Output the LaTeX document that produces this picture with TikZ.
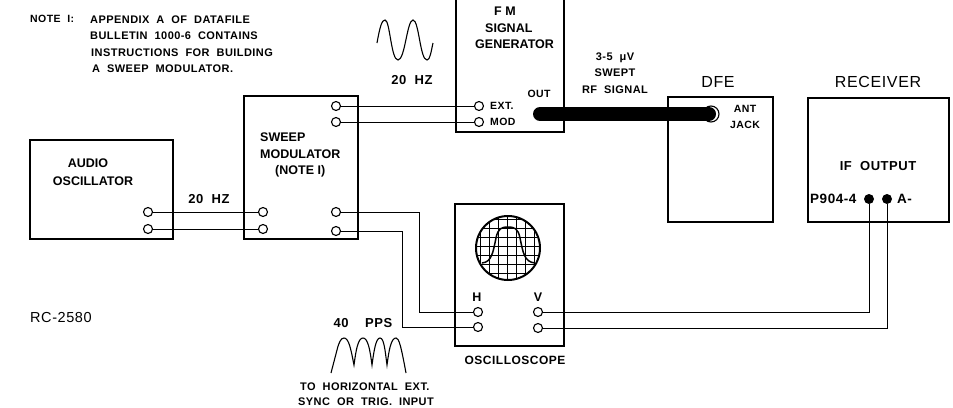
\documentclass[tikz,border=0pt]{standalone}
\usepackage{fontspec}
\setmainfont{Liberation Sans}
\newfontfamily\widefont[LetterSpace=4,WordSpace=2]{Liberation Sans}
\tikzset{
    unitbox/.style={draw,line width=1.5pt,fill=none},
    jackpin/.style={circle,draw,line width=1.1pt,inner sep=0pt,minimum size=9pt,fill=white},
    dotpin/.style={circle,fill=black,inner sep=0pt,minimum size=10pt},
    wire/.style={line width=1pt},
    lbl/.style={inner sep=0pt,align=center,font=\fontsize{12.5}{16.5}\selectfont\bfseries},
    biglbl/.style={inner sep=0pt,font=\widefont\fontsize{13}{16}\selectfont\bfseries},
    titlelbl/.style={inner sep=0pt,font=\widefont\fontsize{16}{18}\selectfont},
    smalllbl/.style={inner sep=0pt,align=left,font=\widefont\fontsize{10.5}{16.5}\selectfont\bfseries},
    notelbl/.style={smalllbl,font=\widefont\fontsize{11}{16.5}\selectfont\bfseries}
}
\begin{document}
\begin{tikzpicture}[x=1pt,y=-1pt]
    \useasboundingbox (0,0) rectangle (953,407);
    % Boxes
    \draw[unitbox] (30,140) rectangle (173,239);
    \draw[unitbox] (244,96) rectangle (358,239);
    \draw[unitbox] (456,-5) rectangle (564,132);
    \draw[unitbox] (668,97) rectangle (773,222);
    \draw[unitbox] (808,98) rectangle (949,222);
    \draw[unitbox] (455,204) rectangle (564,346);
    % Terminals
    \node[jackpin] (aoa) at (148,212) {};
    \node[jackpin] (aob) at (148,229) {};
    \node[jackpin] (smla) at (263,212) {};
    \node[jackpin] (smlb) at (263,229) {};
    \node[jackpin] (smra) at (336,212) {};
    \node[jackpin] (smrb) at (336,231) {};
    \node[jackpin] (smua) at (336,106) {};
    \node[jackpin] (smub) at (336,122) {};
    \node[jackpin] (ext) at (479,106) {};
    \node[jackpin] (mod) at (479,122) {};
    \node[jackpin] (hora) at (478,312) {};
    \node[jackpin] (horb) at (478,327) {};
    \node[jackpin] (vera) at (538,312) {};
    \node[jackpin] (verb) at (538,328) {};
    \node[dotpin] (ifa) at (869,199) {};
    \node[dotpin] (ifb) at (887,199) {};
    \node[circle,draw,line width=1.1pt,inner sep=0pt,minimum size=16pt] (ant) at (711,114) {};
    \coordinate (out) at (540,114);
    \coordinate (antend) at (709,114);
    % Connections
    \draw[wire] (aoa) -- (smla);
    \draw[wire] (aob) -- (smlb);
    \draw[wire] (smua) -- (ext);
    \draw[wire] (smub) -- (mod);
    \draw[wire] (smra) -| (419,312) -- (hora);
    \draw[wire] (smrb) -| (402,327) -- (horb);
    \draw[wire] (vera) -| (ifa);
    \draw[wire] (verb) -| (ifb);
    \draw[line width=14pt,line cap=round] (out) -- (antend);
    % Oscilloscope screen
    \begin{scope}
        \clip (508,248) circle (32);
        \foreach \gx in {480,489,...,536} \draw[line width=1pt] (\gx,210) -- (\gx,285);
        \foreach \gy in {219,228,...,275} \draw[line width=1pt] (470,\gy) -- (545,\gy);
    \end{scope}
    \draw[line width=2pt] (508,248) circle (32);
    \draw[line width=1.5pt] (482,263) .. controls (492,262) and (493,252) .. (496,238) .. controls (498,228) and (502,227) .. (508,227) .. controls (514,227) and (518,228) .. (520,238) .. controls (523,252) and (524,262) .. (535,263);
    % Waveforms
    \draw[line width=1.1pt] (377,43) .. controls (380,26) and (382,20) .. (385,20) .. controls (390,20) and (391,60) .. (398,60) .. controls (405,60) and (407,20) .. (413,20) .. controls (419,20) and (420,60) .. (427,60) .. controls (430,60) and (431,52) .. (433,43);
    \draw[line width=1.1pt] (331,373) -- (337,350) .. controls (339,342) and (341,338) .. (344,338) .. controls (349,338) and (351,350) .. (354,365) .. controls (356,350) and (358,338) .. (363,338) .. controls (368,338) and (370,350) .. (372,365) .. controls (374,350) and (376,338) .. (380,338) .. controls (384,338) and (385,350) .. (387,365) .. controls (389,350) and (391,338) .. (396,338) .. controls (399,338) and (401,346) .. (406,373);
    % Labels
    \node[smalllbl,anchor=west] (notetag) at (30,19) {NOTE I:};
    \node[notelbl,anchor=west] (notetext) at (90,44) {APPENDIX A OF DATAFILE\\BULLETIN 1000-6 CONTAINS\\\hspace*{1pt}INSTRUCTIONS FOR BUILDING\\\hspace*{2pt}A SWEEP MODULATOR.};
    \node[biglbl] (wavea) at (412,80) {20 HZ};
    \node[biglbl] (waveb) at (209,199) {20 HZ};
    \node[lbl] (audio) at (88,163) {AUDIO};
    \node[lbl] (audiob) at (93,181) {OSCILLATOR};
    \node[lbl,align=left,anchor=west] (sweep) at (260,155) {SWEEP\\MODULATOR\\\hspace*{15pt}(NOTE I)};
    \node[lbl,align=left,anchor=west] (gen) at (475,28) {\hspace*{19pt}F M\\\hspace*{10pt}SIGNAL\\GENERATOR};
    \node[smalllbl,anchor=west] (exttag) at (490,106) {EXT.};
    \node[smalllbl,anchor=west] (modtag) at (490,122) {MOD};
    \node[smalllbl] (outtag) at (539,94) {OUT};
    \node[notelbl,align=center] (rf) at (615,73) {3-5 μV\\SWEPT\\RF SIGNAL};
    \node[titlelbl] (dfe) at (718,82) {DFE};
    \node[titlelbl] (recv) at (878,82) {RECEIVER};
    \node[smalllbl,align=center] (jack) at (745,117) {ANT\\JACK};
    \node[biglbl] (ifout) at (878,166) {IF OUTPUT};
    \node[smalllbl,anchor=west,font=\widefont\fontsize{13.5}{16}\selectfont\bfseries] (ptag) at (810,199) {P904-4};
    \node[smalllbl,anchor=west,font=\widefont\fontsize{13.5}{16}\selectfont\bfseries] (atag) at (897,199) {A-};
    \node[lbl] (htag) at (477,297) {H};
    \node[lbl] (vtag) at (538,297) {V};
    \node[biglbl] (pps) at (363,323) {40\ \ PPS};
    \node[smalllbl,font=\widefont\fontsize{12}{16}\selectfont\bfseries] (scope) at (515,360) {OSCILLOSCOPE};
    \node[smalllbl,anchor=west,font=\widefont\fontsize{11}{15}\selectfont\bfseries] (sync) at (298,394.5) {\hspace*{2pt}TO HORIZONTAL EXT.\\SYNC OR TRIG. INPUT};
    \node[titlelbl,font=\widefont\fontsize{14.5}{16}\selectfont,anchor=west] (rc) at (30,318) {RC-2580};
\end{tikzpicture}
\end{document}
